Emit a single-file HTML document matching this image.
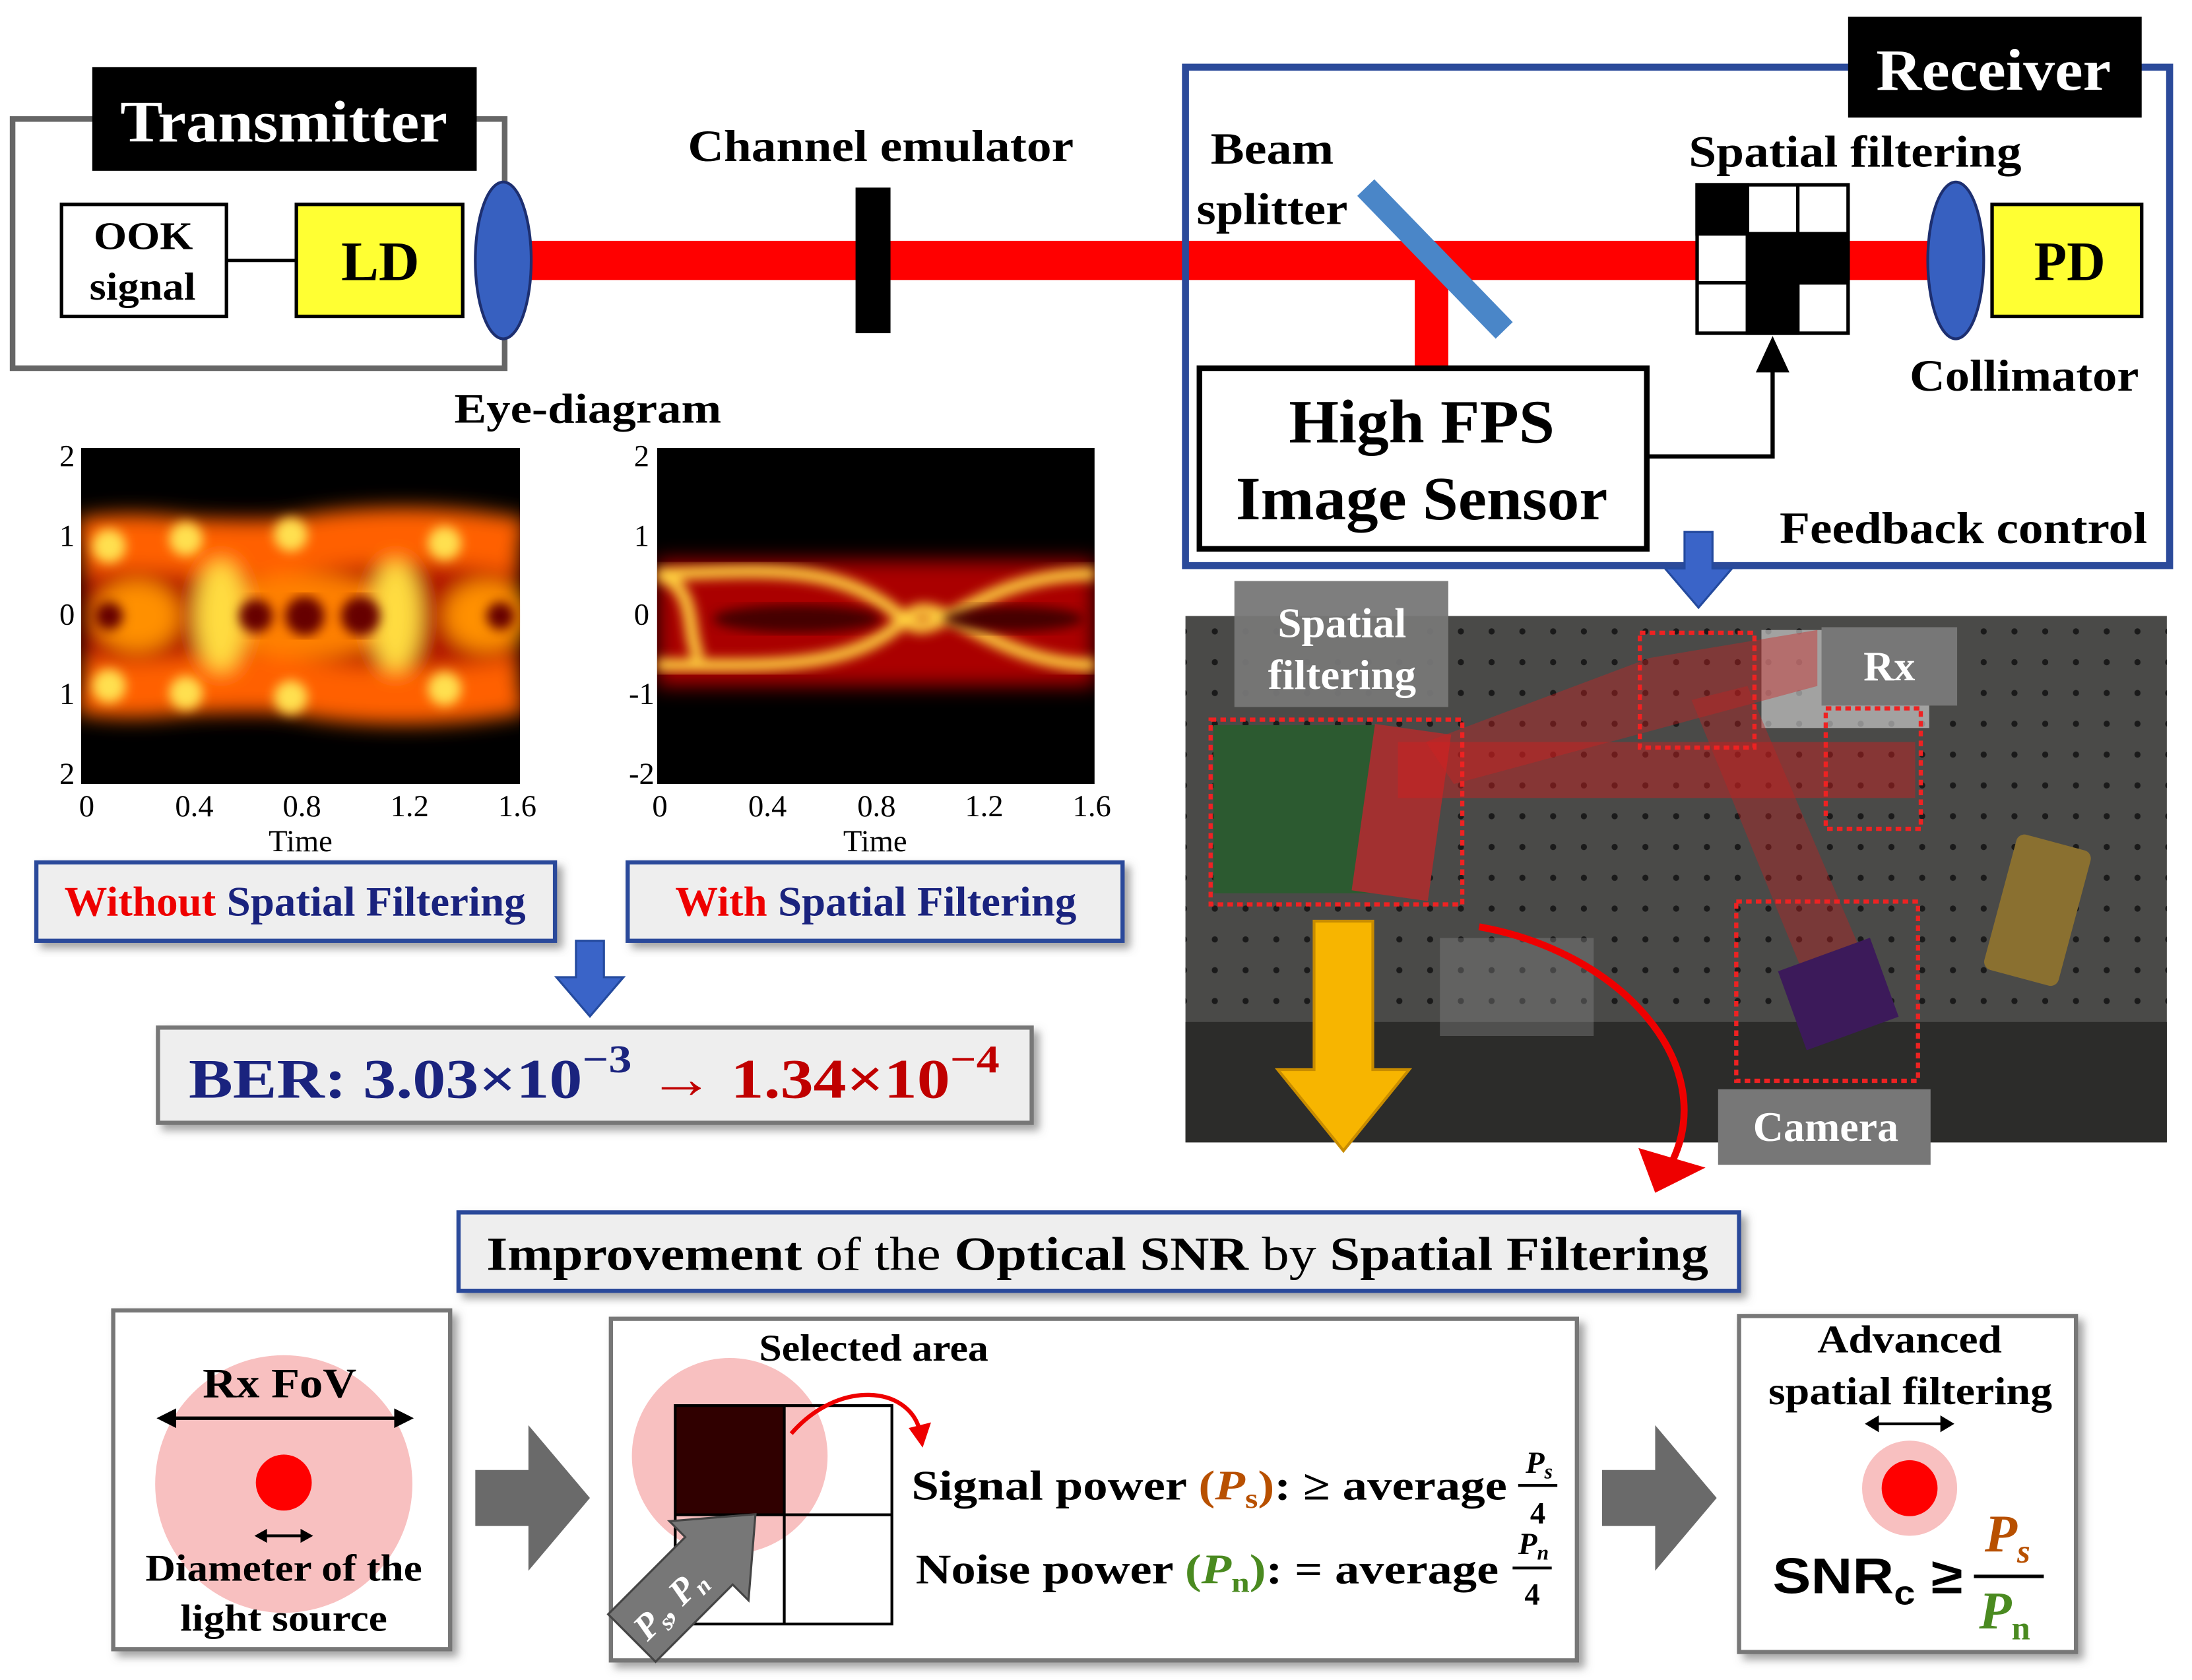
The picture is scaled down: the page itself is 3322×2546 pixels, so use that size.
<!DOCTYPE html>
<html><head><meta charset="utf-8"><style>
html,body{margin:0;padding:0;background:#fff;}
svg{display:block;font-family:"Liberation Serif",serif;font-weight:bold;}
</style></head><body>
<svg width="3322" height="2546" viewBox="0 0 1568 1200" preserveAspectRatio="none" xmlns="http://www.w3.org/2000/svg">
<defs>
<filter id="bl" x="-20%" y="-20%" width="140%" height="140%"><feGaussianBlur stdDeviation="7"/></filter>
<filter id="bl2"><feGaussianBlur stdDeviation="4"/></filter>
<filter id="sh" x="-10%" y="-10%" width="130%" height="130%"><feDropShadow dx="4" dy="4" stdDeviation="3" flood-color="#666" flood-opacity="0.6"/></filter>
<pattern id="dots" width="22" height="22" patternUnits="userSpaceOnUse"><circle cx="11" cy="11" r="2.2" fill="#1a1a1a"/></pattern>
</defs>
<!-- Beam -->
<rect x="375" y="172" width="1030" height="28" fill="#f00"/>
<rect x="1012" y="186" width="24" height="80" fill="#f00"/>
<!-- Transmitter -->
<rect x="9" y="85" width="352" height="178" fill="none" stroke="#666" stroke-width="4"/>
<rect x="66" y="48" width="275" height="74" fill="#000"/>
<text x="86" y="101" font-size="42" fill="#fff" textLength="234" lengthAdjust="spacingAndGlyphs">Transmitter</text>
<rect x="44" y="146" width="118" height="80" fill="#fff" stroke="#000" stroke-width="2.5"/>
<text x="67" y="178" font-size="28" textLength="71" lengthAdjust="spacingAndGlyphs">OOK</text>
<text x="64" y="214" font-size="28" textLength="76" lengthAdjust="spacingAndGlyphs">signal</text>
<line x1="162" y1="186" x2="212" y2="186" stroke="#000" stroke-width="2.5"/>
<rect x="212" y="146" width="119" height="80" fill="#ffff33" stroke="#000" stroke-width="2.5"/>
<text x="244" y="200" font-size="40" textLength="56" lengthAdjust="spacingAndGlyphs">LD</text>
<ellipse cx="360" cy="186" rx="20" ry="56" fill="#3760c0" stroke="#1d2f70" stroke-width="2"/>
<!-- Channel -->
<rect x="612" y="134" width="25" height="104" fill="#000"/>
<text x="492" y="115" font-size="32" textLength="276" lengthAdjust="spacingAndGlyphs">Channel emulator</text>
<!-- Receiver -->
<rect x="848" y="48" width="704" height="356" fill="none" stroke="#2b4a9a" stroke-width="5"/>
<rect x="1322" y="12" width="210" height="72" fill="#000"/>
<text x="1342" y="64" font-size="42" fill="#fff" textLength="168" lengthAdjust="spacingAndGlyphs">Receiver</text>
<text x="866" y="117" font-size="32" textLength="88" lengthAdjust="spacingAndGlyphs">Beam</text>
<text x="856" y="160" font-size="32" textLength="108" lengthAdjust="spacingAndGlyphs">splitter</text>
<line x1="977" y1="134" x2="1076" y2="236" stroke="#4a86c8" stroke-width="17"/>
<text x="1208" y="119" font-size="32" textLength="238" lengthAdjust="spacingAndGlyphs">Spatial filtering</text>
<g stroke="#000" stroke-width="2.5">
<rect x="1214" y="132" width="108" height="106" fill="#fff"/>
<rect x="1214" y="132" width="36" height="35" fill="#000"/>
<rect x="1250" y="167" width="72" height="35" fill="#000"/>
<rect x="1250" y="202" width="36" height="36" fill="#000"/>
<line x1="1250" y1="132" x2="1250" y2="238"/><line x1="1286" y1="132" x2="1286" y2="238"/>
<line x1="1214" y1="167" x2="1322" y2="167"/><line x1="1214" y1="202" x2="1322" y2="202"/>
</g>
<ellipse cx="1399" cy="186" rx="20" ry="56" fill="#3760c0" stroke="#1d2f70" stroke-width="2"/>
<rect x="1425" y="146" width="107" height="80" fill="#ffff33" stroke="#000" stroke-width="2.5"/>
<text x="1455" y="200" font-size="40" textLength="51" lengthAdjust="spacingAndGlyphs">PD</text>
<text x="1366" y="279" font-size="32" textLength="164" lengthAdjust="spacingAndGlyphs">Collimator</text>
<rect x="858" y="263" width="320" height="129" fill="#fff" stroke="#000" stroke-width="4"/>
<text x="922" y="316" font-size="44" textLength="190" lengthAdjust="spacingAndGlyphs">High FPS</text>
<text x="884" y="371" font-size="44" textLength="266" lengthAdjust="spacingAndGlyphs">Image Sensor</text>
<polyline points="1178,326 1268,326 1268,250" fill="none" stroke="#000" stroke-width="3"/>
<path d="M1256,266 L1268,240 L1280,266z" fill="#000"/>
<text x="1273" y="388" font-size="32" textLength="263" lengthAdjust="spacingAndGlyphs">Feedback control</text>
<path d="M1205,380 h20 v26 h14 l-24,28 l-24,-28 h14z" fill="#3a64c8" stroke="#244a9e" stroke-width="1.5"/>
<!-- Photo -->
<rect x="848" y="440" width="702" height="376" fill="#4a4a48"/>
<rect x="848" y="730" width="702" height="86" fill="#2c2c2a"/>
<rect x="848" y="440" width="702" height="290" fill="url(#dots)"/>
<rect x="1260" y="450" width="120" height="70" fill="#ddd" opacity="0.6"/>
<rect x="868" y="518" width="120" height="120" fill="#2c5a30"/>
<rect x="975" y="520" width="55" height="120" fill="#a23030" transform="rotate(8 1000 580)"/>
<path d="M1000,530 L1370,530 L1370,570 L1000,570z" fill="#d02020" opacity="0.45"/>
<path d="M1180,470 L1300,450 L1300,490 L1040,560 L1020,530z" fill="#d02020" opacity="0.4"/>
<path d="M1210,500 L1250,490 L1340,700 L1300,720z" fill="#c02020" opacity="0.4"/>
<rect x="1280" y="680" width="70" height="60" fill="#3c1a5a" transform="rotate(-20 1315 710)"/>
<rect x="1430" y="600" width="55" height="100" rx="6" fill="#8a7030" transform="rotate(15 1457 650)"/>
<rect x="1030" y="670" width="110" height="70" fill="#888" opacity="0.4"/>
<g fill="none" stroke="#e22" stroke-width="3" stroke-dasharray="4,3">
<rect x="866" y="514" width="180" height="132"/>
<rect x="1173" y="452" width="82" height="82"/>
<rect x="1306" y="506" width="68" height="86"/>
<rect x="1242" y="644" width="130" height="128"/>
</g>
<rect x="883" y="415" width="153" height="90" fill="#777" opacity="0.95"/>
<text x="914" y="455" font-size="30" fill="#fff" textLength="92" lengthAdjust="spacingAndGlyphs">Spatial</text>
<text x="907" y="492" font-size="30" fill="#fff" textLength="106" lengthAdjust="spacingAndGlyphs">filtering</text>
<rect x="1303" y="448" width="97" height="56" fill="#777"/>
<text x="1333" y="486" font-size="30" fill="#fff" textLength="37" lengthAdjust="spacingAndGlyphs">Rx</text>
<rect x="1229" y="778" width="152" height="54" fill="#777"/>
<text x="1254" y="815" font-size="30" fill="#fff" textLength="104" lengthAdjust="spacingAndGlyphs">Camera</text>
<path d="M940,658 h42 v106 h26 l-47,58 l-47,-58 h26z" fill="#f7b500" stroke="#c88c00" stroke-width="2"/>
<path d="M1058,662 C1160,680 1230,760 1196,830" fill="none" stroke="#e00" stroke-width="5"/>
<path d="M1172,820 L1184,852 L1220,834z" fill="#e00"/>
<!-- Eye diagrams -->
<text x="325" y="302" font-size="30" textLength="191" lengthAdjust="spacingAndGlyphs">Eye-diagram</text>
<svg x="58" y="320" width="314" height="240" viewBox="0 0 314 240">
<rect width="314" height="240" fill="#000"/>
<g filter="url(#bl)">
<rect x="0" y="50" width="314" height="140" fill="#b01000"/>
<path d="M0,70 C60,60 100,80 150,70 S260,60 314,70" stroke="#ff6000" stroke-width="40" fill="none"/>
<path d="M0,170 C60,180 100,160 150,170 S260,180 314,170" stroke="#ff6000" stroke-width="40" fill="none"/>
<ellipse cx="160" cy="120" rx="65" ry="30" fill="#ff8000"/>
<ellipse cx="40" cy="120" rx="30" ry="25" fill="#ff9000"/>
<ellipse cx="290" cy="120" rx="30" ry="25" fill="#ff9000"/>
<ellipse cx="100" cy="120" rx="18" ry="40" fill="#ffdc40"/>
<ellipse cx="225" cy="120" rx="18" ry="40" fill="#ffdc40"/>
</g>
<g fill="#ffe050" filter="url(#bl2)"><circle cx="20" cy="70" r="12"/><circle cx="75" cy="65" r="12"/><circle cx="150" cy="62" r="12"/><circle cx="260" cy="68" r="12"/><circle cx="20" cy="170" r="12"/><circle cx="75" cy="175" r="12"/><circle cx="150" cy="178" r="12"/><circle cx="260" cy="172" r="12"/></g>
<g fill="#600" filter="url(#bl2)"><circle cx="160" cy="120" r="14"/><circle cx="200" cy="120" r="14"/><circle cx="125" cy="120" r="12"/><circle cx="20" cy="120" r="10"/><circle cx="300" cy="120" r="10"/></g>
</svg>
<svg x="470" y="320" width="313" height="240" viewBox="0 0 313 240">
<rect width="313" height="240" fill="#000"/>
<g filter="url(#bl)"><rect x="0" y="80" width="313" height="90" fill="#a00"/></g>
<g fill="none" stroke="#ffd040" stroke-width="9" filter="url(#bl2)">
<path d="M0,90 C80,88 130,80 180,125 C200,140 230,90 313,90"/>
<path d="M0,155 C80,155 140,160 180,120 C200,100 240,155 313,155"/>
<path d="M0,90 C30,100 20,130 30,150"/>
</g>
<g fill="#400" filter="url(#bl2)"><ellipse cx="100" cy="122" rx="60" ry="10"/><ellipse cx="255" cy="122" rx="50" ry="9"/></g>
</svg>
<g font-family="Liberation Serif,serif" font-weight="normal" font-size="22">
<text x="48" y="333" text-anchor="middle">2</text><text x="48" y="390" text-anchor="middle">1</text><text x="48" y="446" text-anchor="middle">0</text><text x="48" y="503" text-anchor="middle">1</text><text x="48" y="560" text-anchor="middle">2</text>
<text x="459" y="333" text-anchor="middle">2</text><text x="459" y="390" text-anchor="middle">1</text><text x="459" y="446" text-anchor="middle">0</text><text x="459" y="503" text-anchor="middle">-1</text><text x="459" y="560" text-anchor="middle">-2</text>
<text x="62" y="583" text-anchor="middle">0</text><text x="139" y="583" text-anchor="middle">0.4</text><text x="216" y="583" text-anchor="middle">0.8</text><text x="293" y="583" text-anchor="middle">1.2</text><text x="370" y="583" text-anchor="middle">1.6</text>
<text x="215" y="608" text-anchor="middle">Time</text>
<text x="472" y="583" text-anchor="middle">0</text><text x="549" y="583" text-anchor="middle">0.4</text><text x="627" y="583" text-anchor="middle">0.8</text><text x="704" y="583" text-anchor="middle">1.2</text><text x="781" y="583" text-anchor="middle">1.6</text>
<text x="626" y="608" text-anchor="middle">Time</text>
</g>
<rect x="26" y="616" width="371" height="56" fill="#eee" stroke="#2b4a9a" stroke-width="3" filter="url(#sh)"/>
<text x="46" y="654" font-size="30" textLength="330" lengthAdjust="spacingAndGlyphs"><tspan fill="#e00">Without</tspan><tspan fill="#1a237e"> Spatial Filtering</tspan></text>
<rect x="449" y="616" width="354" height="56" fill="#eee" stroke="#2b4a9a" stroke-width="3" filter="url(#sh)"/>
<text x="483" y="654" font-size="30" textLength="287" lengthAdjust="spacingAndGlyphs"><tspan fill="#e00">With</tspan><tspan fill="#1a237e"> Spatial Filtering</tspan></text>
<path d="M412,672 h20 v26 h14 l-24,28 l-24,-28 h14z" fill="#3a64c8" stroke="#244a9e" stroke-width="1.5"/>
<rect x="113" y="734" width="625" height="68" fill="#eee" stroke="#777" stroke-width="3" filter="url(#sh)"/>
<text x="135" y="784" font-size="40" fill="#1a237e" textLength="580" lengthAdjust="spacingAndGlyphs">BER: 3.03×10<tspan dy="-18" font-size="28">−3</tspan><tspan dy="18" fill="#c00000"> → 1.34×10</tspan><tspan dy="-18" font-size="28" fill="#c00000">−4</tspan></text>
<!-- Bottom -->
<rect x="328" y="866" width="916" height="56" fill="#eee" stroke="#2b4a9a" stroke-width="3" filter="url(#sh)"/>
<text x="348" y="907" font-size="34" textLength="874" lengthAdjust="spacingAndGlyphs">Improvement <tspan font-weight="normal">of the</tspan> Optical SNR <tspan font-weight="normal">by</tspan> Spatial Filtering</text>
<rect x="81" y="936" width="241" height="242" fill="#fff" stroke="#777" stroke-width="3" filter="url(#sh)"/>
<circle cx="203" cy="1060" r="92" fill="#f8c0c0"/>
<circle cx="203" cy="1059" r="20" fill="#f00"/>
<text x="145" y="998" font-size="30" textLength="110" lengthAdjust="spacingAndGlyphs">Rx FoV</text>
<line x1="118" y1="1013" x2="290" y2="1013" stroke="#000" stroke-width="2.5"/>
<path d="M112,1013 l14,-7 v14z M296,1013 l-14,-7 v14z" fill="#000"/>
<line x1="186" y1="1097" x2="220" y2="1097" stroke="#000" stroke-width="2"/>
<path d="M182,1097 l9,-5 v10z M224,1097 l-9,-5 v10z" fill="#000"/>
<text x="104" y="1129" font-size="27" textLength="198" lengthAdjust="spacingAndGlyphs">Diameter of the</text>
<text x="129" y="1165" font-size="27" textLength="148" lengthAdjust="spacingAndGlyphs">light source</text>
<path d="M340,1050 h38 v-32 l44,52 l-44,52 v-32 h-38z" fill="#6a6a6a"/>
<rect x="437" y="942" width="691" height="244" fill="#fff" stroke="#777" stroke-width="3" filter="url(#sh)"/>
<text x="543" y="972" font-size="27" textLength="164" lengthAdjust="spacingAndGlyphs">Selected area</text>
<circle cx="522" cy="1040" r="70" fill="#f8c0c0"/>
<rect x="483" y="1004" width="78" height="78" fill="#300000"/>
<g fill="none" stroke="#000" stroke-width="2"><rect x="483" y="1004" width="155" height="156"/><line x1="561" y1="1004" x2="561" y2="1160"/><line x1="483" y1="1082" x2="638" y2="1082"/></g>
<path d="M566,1024 C600,985 650,990 658,1022" fill="none" stroke="#e00" stroke-width="3"/>
<path d="M650,1020 L660,1034 L666,1016z" fill="#e00"/>
<g transform="translate(452,1170) rotate(-45)">
<path d="M0,-24 L78,-24 L78,-40 L125,0 L78,40 L78,24 L0,24z" fill="#777" stroke="#444" stroke-width="1.5"/>
<text x="6" y="10" font-size="26" fill="#fff" font-style="italic">P<tspan font-size="17" dy="5">s</tspan><tspan dy="-5">, P</tspan><tspan font-size="17" dy="5">n</tspan></text>
</g>
<text x="652" y="1071" font-size="30" textLength="426" lengthAdjust="spacingAndGlyphs">Signal power <tspan fill="#b85000">(<tspan font-style="italic">P</tspan><tspan font-size="20" dy="6">s</tspan><tspan dy="-6">)</tspan></tspan>: ≥ average</text>
<text x="1101" y="1052" font-size="22" text-anchor="middle" font-style="italic">P<tspan font-size="15" dy="4">s</tspan></text>
<line x1="1086" y1="1061" x2="1114" y2="1061" stroke="#000" stroke-width="2"/>
<text x="1100" y="1088" font-size="22" text-anchor="middle">4</text>
<text x="655" y="1131" font-size="30" textLength="417" lengthAdjust="spacingAndGlyphs">Noise power <tspan fill="#4a8a20">(<tspan font-style="italic">P</tspan><tspan font-size="20" dy="6">n</tspan><tspan dy="-6">)</tspan></tspan>: = average</text>
<text x="1097" y="1110" font-size="22" text-anchor="middle" font-style="italic">P<tspan font-size="15" dy="4">n</tspan></text>
<line x1="1082" y1="1120" x2="1110" y2="1120" stroke="#000" stroke-width="2"/>
<text x="1096" y="1146" font-size="22" text-anchor="middle">4</text>
<path d="M1146,1050 h38 v-32 l44,52 l-44,52 v-32 h-38z" fill="#6a6a6a"/>
<rect x="1244" y="940" width="241" height="240" fill="#fff" stroke="#777" stroke-width="3" filter="url(#sh)"/>
<text x="1300" y="966" font-size="28" textLength="132" lengthAdjust="spacingAndGlyphs">Advanced</text>
<text x="1265" y="1003" font-size="28" textLength="203" lengthAdjust="spacingAndGlyphs">spatial filtering</text>
<line x1="1340" y1="1017" x2="1392" y2="1017" stroke="#000" stroke-width="2"/>
<path d="M1334,1017 l10,-6 v12z M1398,1017 l-10,-6 v12z" fill="#000"/>
<circle cx="1366" cy="1063" r="34" fill="#f8c0c0"/>
<circle cx="1366" cy="1063" r="20" fill="#f00"/>
<text x="1268" y="1138" font-size="36" font-family="Liberation Sans,sans-serif" textLength="136" lengthAdjust="spacingAndGlyphs">SNR<tspan font-size="24" dy="8">c</tspan><tspan dy="-8"> ≥</tspan></text>
<text x="1436" y="1108" font-size="38" fill="#b85000" text-anchor="middle" font-style="italic">P<tspan font-size="24" dy="8">s</tspan></text>
<line x1="1412" y1="1126" x2="1462" y2="1126" stroke="#000" stroke-width="2.5"/>
<text x="1434" y="1163" font-size="38" fill="#4a8a20" text-anchor="middle" font-style="italic">P<tspan font-size="24" dy="8" font-style="normal">n</tspan></text>
</svg>
</body></html>
